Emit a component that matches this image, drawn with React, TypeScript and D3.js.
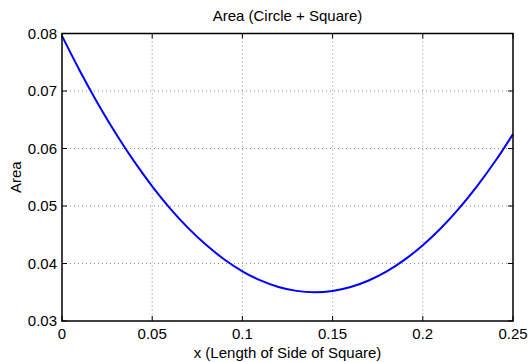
import React from "react";
import * as d3 from "d3";

const xValues = [0, 0.01, 0.02, 0.03, 0.04, 0.05, 0.06, 0.07, 0.08, 0.09, 0.1, 0.11, 0.12, 0.13, 0.14, 0.15, 0.16, 0.17, 0.18, 0.19, 0.2, 0.21, 0.22, 0.23, 0.24, 0.25];
const areaValues = [0.07958, 0.07344, 0.06775, 0.06253, 0.05775, 0.05343, 0.04956, 0.04615, 0.0432, 0.0407, 0.03865, 0.03706, 0.03592, 0.03524, 0.03501, 0.03523, 0.03591, 0.03705, 0.03864, 0.04068, 0.04318, 0.04614, 0.04955, 0.05341, 0.05773, 0.0625];
const xTicks = [0, 0.05, 0.1, 0.15, 0.2, 0.25];
const xTickLabels = ["0", "0.05", "0.1", "0.15", "0.2", "0.25"];
const yTicks = [0.03, 0.04, 0.05, 0.06, 0.07, 0.08];
const yTickLabels = ["0.03", "0.04", "0.05", "0.06", "0.07", "0.08"];
const title = "Area (Circle + Square)";
const xLabel = "x (Length of Side of Square)";
const yLabel = "Area";

const W = 531, H = 362;
const L = 62, R = 513, T = 33.5, B = 321;
const font = "'Liberation Sans', Arial, Helvetica, sans-serif";
const fs = 15;

export default function App() {
  const x = d3.scaleLinear().domain([0, 0.25]).range([L, R]);
  const y = d3.scaleLinear().domain([0.03, 0.08]).range([B, T]);
  const pts = xValues.map((v, i) => [v, areaValues[i]] as [number, number]);
  const line = d3.line<[number, number]>().x(d => x(d[0])).y(d => y(d[1])).curve(d3.curveCatmullRom);
  const tk = 5;
  return (
    <svg width={W} height={H} style={{ position: "absolute", left: 0, top: 0, background: "#fff" }}>
      <rect x={0} y={0} width={W} height={H} fill="#fff" />
      {xTicks.slice(1, -1).map((t, i) => (
        <line key={"gx" + i} x1={x(t)} x2={x(t)} y1={T} y2={B} stroke="#888" strokeWidth={1} strokeDasharray="1,3" />
      ))}
      {yTicks.slice(1, -1).map((t, i) => (
        <line key={"gy" + i} x1={L} x2={R} y1={y(t)} y2={y(t)} stroke="#888" strokeWidth={1} strokeDasharray="1,3" />
      ))}
      <path d={line(pts) || ""} fill="none" stroke="#0000ff" strokeWidth={2} />
      {xTicks.map((t, i) => (
        <g key={"tx" + i}>
          <line x1={x(t)} x2={x(t)} y1={B} y2={B - tk} stroke="#000" strokeWidth={1} />
          <line x1={x(t)} x2={x(t)} y1={T} y2={T + tk} stroke="#000" strokeWidth={1} />
          <text x={x(t)} y={339} fontFamily={font} fontSize={fs} textAnchor="middle">{xTickLabels[i]}</text>
        </g>
      ))}
      {yTicks.map((t, i) => (
        <g key={"ty" + i}>
          <line x1={L} x2={L + tk} y1={y(t)} y2={y(t)} stroke="#000" strokeWidth={1} />
          <line x1={R} x2={R - tk} y1={y(t)} y2={y(t)} stroke="#000" strokeWidth={1} />
          <text x={57} y={y(t)} dy="0.36em" fontFamily={font} fontSize={fs} textAnchor="end">{yTickLabels[i]}</text>
        </g>
      ))}
      <rect x={L} y={T} width={R - L} height={B - T} fill="none" stroke="#000" strokeWidth={1.5} />
      <text x={(L + R) / 2} y={20.5} fontFamily={font} fontSize={fs} textAnchor="middle">{title}</text>
      <text x={(L + R) / 2} y={358} fontFamily={font} fontSize={fs} textAnchor="middle">{xLabel}</text>
      <text transform={`translate(21,${(T + B) / 2}) rotate(-90)`} fontFamily={font} fontSize={fs} textAnchor="middle">{yLabel}</text>
    </svg>
  );
}
